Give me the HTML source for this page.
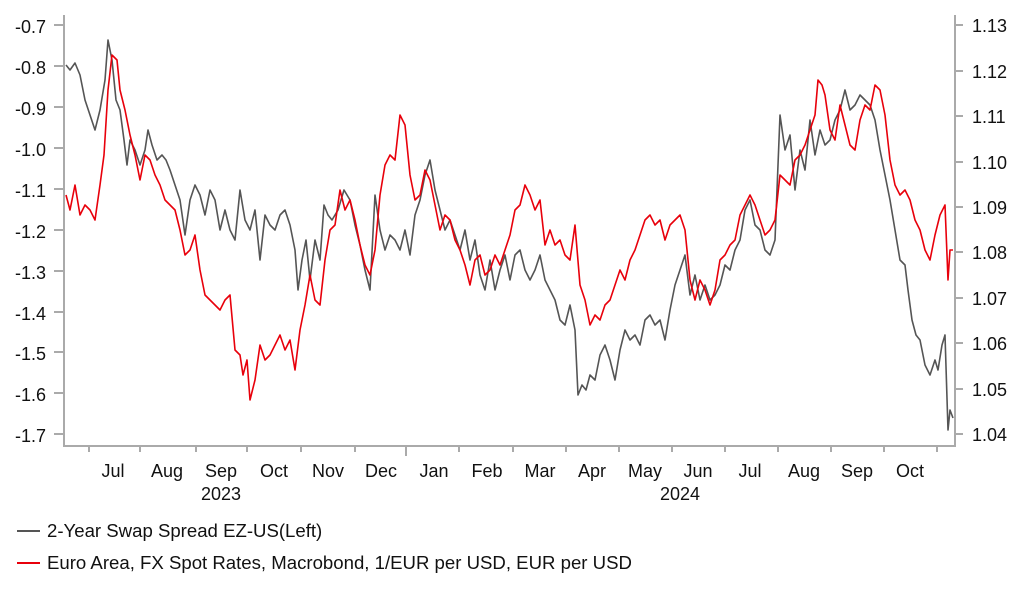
<!DOCTYPE html>
<html><head><meta charset="utf-8"><style>
body{margin:0;background:#fff;}
svg text{font-family:"Liberation Sans",Arial,sans-serif;font-size:18px;fill:#111;}
svg text.lg{font-size:18.6px;}
</style></head><body>
<svg width="1022" height="597" viewBox="0 0 1022 597" xmlns="http://www.w3.org/2000/svg">
<g stroke="#aaa" stroke-width="2" fill="none">
<path d="M64 15V446H955V15"/>
<path d="M54 25H64M54 66H64M54 107H64M54 148H64M54 189H64M54 230H64M54 271H64M54 312H64M54 352H64M54 393H64M54 434H64"/>
<path d="M955 25H963M955 71H963M955 116H963M955 162H963M955 207H963M955 252H963M955 298H963M955 343H963M955 389H963M955 434H963"/>
<path d="M89 446V452M140 446V452M196 446V452M247 446V452M301 446V452M355 446V452M406 446V456M459 446V452M513 446V452M566 446V452M619 446V452M672 446V452M725 446V452M778 446V452M831 446V452M884 446V452M937 446V452"/>
</g>
<g text-anchor="end">
<text x="46" y="33">-0.7</text><text x="46" y="74">-0.8</text><text x="46" y="115">-0.9</text><text x="46" y="156">-1.0</text><text x="46" y="197">-1.1</text><text x="46" y="238">-1.2</text><text x="46" y="279">-1.3</text><text x="46" y="320">-1.4</text><text x="46" y="360">-1.5</text><text x="46" y="401">-1.6</text><text x="46" y="442">-1.7</text>
</g>
<g>
<text x="972" y="32">1.13</text><text x="972" y="78">1.12</text><text x="972" y="123">1.11</text><text x="972" y="169">1.10</text><text x="972" y="214">1.09</text><text x="972" y="259">1.08</text><text x="972" y="305">1.07</text><text x="972" y="350">1.06</text><text x="972" y="396">1.05</text><text x="972" y="441">1.04</text>
</g>
<g text-anchor="middle">
<text x="113" y="477">Jul</text><text x="167" y="477">Aug</text><text x="221" y="477">Sep</text><text x="274" y="477">Oct</text><text x="328" y="477">Nov</text><text x="381" y="477">Dec</text><text x="434" y="477">Jan</text><text x="487" y="477">Feb</text><text x="540" y="477">Mar</text><text x="592" y="477">Apr</text><text x="645" y="477">May</text><text x="698" y="477">Jun</text><text x="750" y="477">Jul</text><text x="804" y="477">Aug</text><text x="857" y="477">Sep</text><text x="910" y="477">Oct</text>
<text x="221" y="500">2023</text><text x="680" y="500">2024</text>
</g>
<polyline fill="none" stroke="#555" stroke-width="1.6" stroke-linejoin="round" points="66,65 70,70 75,63 80,75 85,100 90,115 95,130 100,110 105,80 108,40 112,60 116,100 120,110 124,140 127,165 130,140 135,150 140,165 145,150 148,130 152,145 157,160 162,155 166,160 170,170 175,185 180,200 185,235 190,200 195,185 200,195 205,215 210,190 215,200 220,230 225,210 230,230 235,240 240,190 245,220 250,230 255,210 260,260 265,215 270,225 275,230 280,215 285,210 290,225 295,250 298,290 302,260 306,240 310,280 315,240 320,260 324,205 328,215 332,220 338,210 344,190 350,200 355,225 360,245 365,270 370,290 375,195 380,230 385,250 390,235 395,240 400,250 405,230 410,255 415,215 420,200 425,175 430,160 435,190 440,210 445,230 450,220 455,235 460,250 465,230 470,260 475,240 480,275 485,290 490,260 495,290 500,270 505,255 510,280 515,255 520,250 525,270 530,280 535,270 540,255 545,280 550,290 555,300 560,320 565,325 570,305 575,330 578,395 582,385 586,390 590,375 595,380 600,355 605,345 610,360 615,380 620,350 625,330 630,340 635,335 640,345 645,320 650,315 655,325 660,320 665,340 670,310 675,285 680,270 685,255 690,295 695,275 700,300 705,285 710,300 715,295 720,285 725,265 730,270 735,250 740,240 745,210 750,200 755,225 760,230 765,250 770,255 775,240 780,115 785,150 790,135 795,190 800,150 805,170 810,120 815,155 820,130 825,145 830,140 835,120 840,110 845,90 850,110 855,105 860,95 865,100 870,105 875,120 880,150 885,175 890,200 895,230 900,260 905,265 908,290 912,320 916,335 920,340 925,365 930,375 935,360 938,370 942,345 945,335 948,430 950,410 953,418"/>
<polyline fill="none" stroke="#e8000b" stroke-width="1.6" stroke-linejoin="round" points="66,195 70,210 75,185 80,215 85,205 90,210 95,220 100,185 104,155 108,90 112,55 117,60 120,90 125,110 130,135 135,155 140,180 145,155 150,160 155,175 160,185 165,200 170,205 175,210 180,230 185,255 190,250 195,235 200,270 205,295 210,300 215,305 220,310 225,300 230,295 235,350 240,355 243,375 247,360 250,400 255,380 260,345 265,360 270,355 275,345 280,335 285,350 290,340 295,370 300,330 305,305 310,275 315,300 320,305 325,260 330,230 335,225 340,190 345,210 350,200 355,220 360,245 365,265 370,275 375,250 380,195 385,165 390,155 395,160 400,115 405,125 410,175 415,200 420,195 425,170 430,180 435,205 440,230 445,215 450,220 455,240 460,250 465,265 470,285 475,260 480,255 485,275 490,270 495,255 500,265 505,250 510,235 515,210 520,205 525,185 530,195 535,210 540,200 545,245 550,230 555,245 560,240 565,255 570,260 575,225 580,285 585,300 590,325 595,315 600,320 605,305 610,300 615,285 620,270 625,280 630,260 635,250 640,235 645,220 650,215 655,225 660,220 665,240 670,225 675,220 680,215 685,230 690,280 695,300 700,280 705,290 710,305 715,290 720,260 725,255 730,245 735,240 740,215 745,205 750,195 755,205 760,220 765,235 770,230 775,220 780,175 785,180 790,185 795,160 800,155 805,145 810,130 815,115 818,80 822,85 825,95 830,130 835,140 840,105 845,125 850,145 855,150 860,120 865,105 870,110 875,85 880,90 885,115 890,160 895,185 900,195 905,190 910,200 915,220 920,230 925,250 930,260 935,235 940,215 945,205 948,280 950,250 953,250"/>
<line x1="17" y1="531" x2="40" y2="531" stroke="#555" stroke-width="2"/>
<text class="lg" x="47" y="537">2-Year Swap Spread EZ-US(Left)</text>
<line x1="17" y1="563" x2="40" y2="563" stroke="#e8000b" stroke-width="2"/>
<text class="lg" x="47" y="569">Euro Area, FX Spot Rates, Macrobond, 1/EUR per USD, EUR per USD</text>
</svg>
</body></html>
